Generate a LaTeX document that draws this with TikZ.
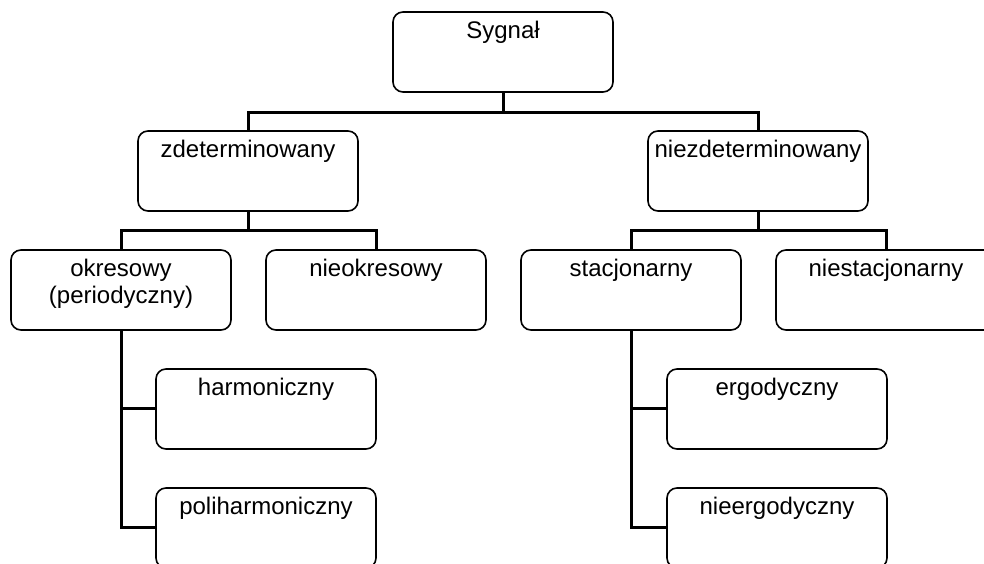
\documentclass[tikz,border=0pt]{standalone}
\usepackage{fontspec}
\setmainfont{Liberation Sans}
\usetikzlibrary{positioning}

\begin{document}
\begin{tikzpicture}[x=1pt, y=1pt,
        kat/.style={draw=black, line width=1.6pt, rounded corners=10pt,
            minimum width=220pt, minimum height=80pt, inner ysep=9pt,
            text height=18pt, text depth=44pt, align=center,
            font=\fontsize{24}{27}\selectfont},
        lacz/.style={draw=black, line width=3pt}]
        \useasboundingbox (0,0) rectangle (984,564);
        \clip (0,0) rectangle (984,564);

        \node[kat] (syg) at (503,512) {Sygnał};

        \node[kat] (zdet) at (248,393) {zdeterminowany};
        \node[kat] (niezdet) at (758,393) {niezdeterminowany};

        % two lines: baseline sits on the last one
        \node[kat, text height=45pt, text depth=17pt] (okr) at (121,274) {okresowy\\(periodyczny)};
        \node[kat] (nieokr) at (376,274) {nieokresowy};
        \node[kat] (stac) at (631,274) {stacjonarny};
        \node[kat] (niestac) at (886,274) {niestacjonarny};

        \node[kat] (harm) at (266,155) {harmoniczny};
        \node[kat] (poli) at (266,36) {poliharmoniczny};
        \node[kat] (ergo) at (777,155) {ergodyczny};
        \node[kat] (nieergo) at (777,36) {nieergodyczny};

        \path[lacz] (syg.south) -- ++(0,-19.5) -| (zdet.north);
        \path[lacz] (syg.south) -- ++(0,-19.5) -| (niezdet.north);

        \path[lacz] (zdet.south) -- ++(0,-19) -| (okr.north);
        \path[lacz] (zdet.south) -- ++(0,-19) -| (nieokr.north);
        \path[lacz] (niezdet.south) -- ++(0,-19) -| (stac.north);
        \path[lacz] (niezdet.south) -- ++(0,-19) -| (niestac.north);

        \path[lacz] (okr.south) |- (harm.west);
        \path[lacz] (okr.south) |- (poli.west);
        \path[lacz] (stac.south) |- (ergo.west);
        \path[lacz] (stac.south) |- (nieergo.west);
    \end{tikzpicture}
\end{document}
